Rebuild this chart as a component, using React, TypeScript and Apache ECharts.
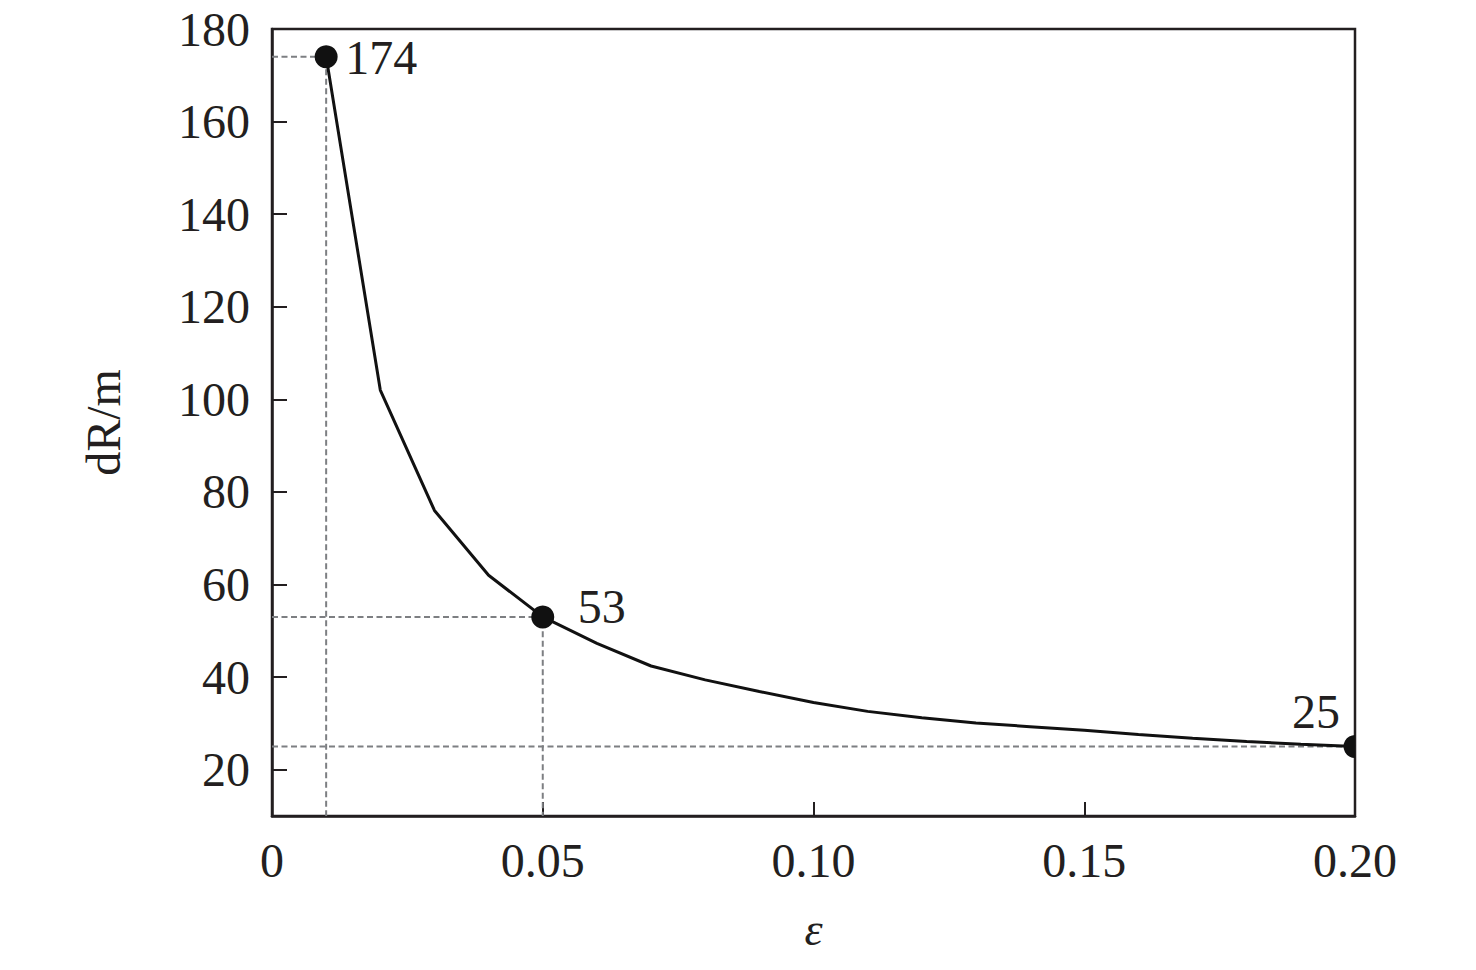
import React, { useEffect, useRef } from "react";
import * as echarts from "echarts";

// ---- data ----
const eps = [0.01, 0.02, 0.03, 0.04, 0.05, 0.06, 0.07, 0.08, 0.09, 0.1, 0.11, 0.12, 0.13, 0.14, 0.15, 0.16, 0.17, 0.18, 0.19, 0.2];
const dR = [174, 102, 76, 62, 53, 47.3, 42.4, 39.4, 36.9, 34.5, 32.6, 31.2, 30.1, 29.3, 28.5, 27.6, 26.8, 26.1, 25.5, 25];
const keyEps = [0.01, 0.05, 0.2];
const keyDR = [174, 53, 25];
const keyLabels = ["174", "53", "25"];
const yTicks = [20, 40, 60, 80, 100, 120, 140, 160, 180];
const xTicks = [0, 0.05, 0.1, 0.15, 0.2];
const xTickLabels = ["0", "0.05", "0.10", "0.15", "0.20"];
const yMin = 10;
const yMax = 180;
const xName = "ε";
const yName = "dR/m";

const FONT = "'Liberation Serif', 'Times New Roman', serif";
const TXT = "#231f20";

// label placement (style, not data): [dx, dy, align]
const labelPlacement: [number, number, string][] = [
  [19, 1, "left"],
  [35, -10, "left"],
  [-15, -35, "right"],
];

export default function App() {
  const ref = useRef<HTMLDivElement>(null);
  useEffect(() => {
    if (!ref.current) return;
    const chart = echarts.init(ref.current, null, { renderer: "svg" });

    const guideSeries: any[] = keyEps.map((x, i) => {
      const pts: number[][] = [[0, keyDR[i]], [x, keyDR[i]]];
      if (x < 0.2) pts.push([x, yMin]);
      return {
        type: "line",
        data: pts,
        symbol: "none",
        silent: true,
        z: 1,
        lineStyle: { color: "#7d7f82", width: 2, type: [6, 3.5] },
      };
    });

    const option: any = {
      animation: false,
      backgroundColor: "#fff",
      grid: {
        left: 272,
        right: 121,
        top: 29,
        bottom: 154,
        show: true,
        borderColor: "#231f20",
        borderWidth: 2.5,
        backgroundColor: "transparent",
      },
      xAxis: {
        type: "value",
        min: 0,
        max: 0.2,
        interval: 0.05,
        name: xName,
        nameLocation: "middle",
        nameGap: 90,
        nameTextStyle: { fontFamily: FONT, fontSize: 46, fontStyle: "italic", color: TXT },
        axisLine: { show: true, lineStyle: { color: "#231f20", width: 2.5 } },
        axisTick: { show: true, inside: true, length: 14, lineStyle: { color: "#231f20", width: 2 } },
        splitLine: { show: false },
        axisLabel: {
          margin: 20,
          fontFamily: FONT,
          fontSize: 48,
          color: TXT,
          formatter: (v: number) => {
            const i = xTicks.findIndex((t) => Math.abs(t - v) < 1e-9);
            return i >= 0 ? xTickLabels[i] : "";
          },
        },
      },
      yAxis: {
        type: "value",
        min: yMin,
        max: yMax,
        name: yName,
        nameLocation: "middle",
        nameGap: 145,
        nameRotate: 90,
        nameTextStyle: { fontFamily: FONT, fontSize: 48, color: TXT },
        axisLine: { show: true, lineStyle: { color: "#231f20", width: 2.5 } },
        axisTick: { show: true, inside: true, length: 15, customValues: yTicks, lineStyle: { color: "#231f20", width: 2 } },
        splitLine: { show: false },
        axisLabel: {
          margin: 22,
          fontFamily: FONT,
          fontSize: 48,
          color: TXT,
          customValues: yTicks,
        },
      },
      series: [
        ...guideSeries,
        {
          type: "line",
          data: eps.map((x, i) => [x, dR[i]]),
          symbol: "none",
          z: 3,
          lineStyle: { color: "#111", width: 3 },
        },
        {
          type: "custom",
          clip: true,
          z: 5,
          data: keyEps.map((x, i) => [x, keyDR[i], i]),
          renderItem: (params: any, api: any) => {
            const p = api.coord([api.value(0), api.value(1)]);
            const i = api.value(2);
            const pl = labelPlacement[i];
            return {
              type: "group",
              children: [
                { type: "circle", shape: { cx: p[0], cy: p[1], r: 11.5 }, style: { fill: "#111" } },
                {
                  type: "text",
                  x: p[0] + pl[0],
                  y: p[1] + pl[1],
                  style: {
                    text: keyLabels[i],
                    fontFamily: FONT,
                    fontSize: 48,
                    fill: TXT,
                    align: pl[2],
                    verticalAlign: "middle",
                  },
                },
              ],
            };
          },
        },
      ],
    };
    chart.setOption(option);
    return () => chart.dispose();
  }, []);
  return <div ref={ref} style={{ width: 1476, height: 970, position: "absolute", left: 0, top: 0 }} />;
}
